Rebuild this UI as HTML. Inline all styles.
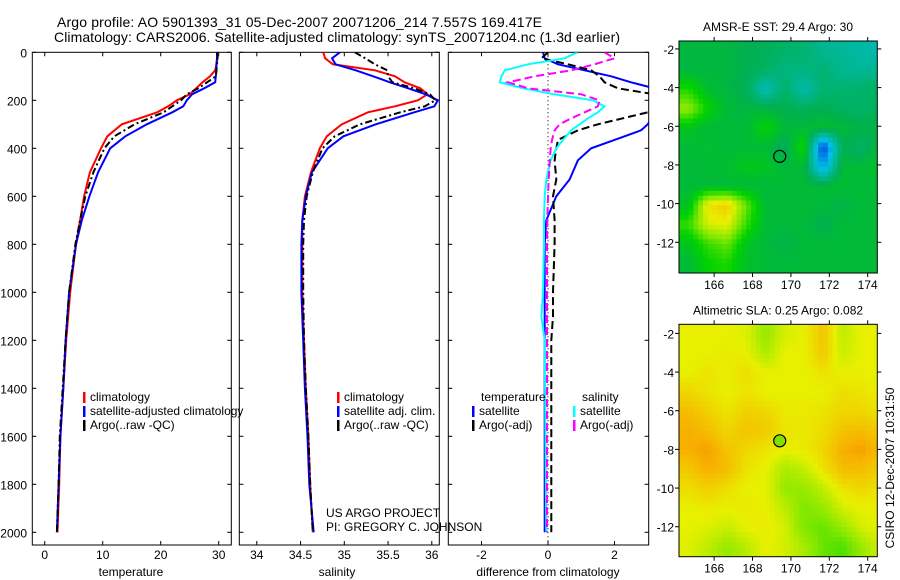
<!DOCTYPE html>
<html><head><meta charset="utf-8"><style>
html,body{margin:0;padding:0;background:#fff;}
svg{display:block;font-family:"Liberation Sans",Arial,sans-serif;}
</style></head><body>
<svg id="fig" width="900" height="580" viewBox="0 0 900 580"></svg>
<script>
// ---------- DATA ----------
const depthsTS = [0,25,50,75,100,125,150,175,200,225,250,300,350,400,500,600,700,800,1000,1200,1400,1600,1800,2000];
const tempClim = [29.9,29.8,29.6,29.4,28.5,27.2,26.1,25,22.8,21.3,19.4,13.3,10.8,9.7,7.8,6.8,6.1,5.4,4.4,3.7,3.2,2.7,2.5,2.2];
const tempSat  = [29.7,29.7,29.6,29.6,29.5,29.4,27.5,25.4,24.5,23.9,22,17.6,13.9,11.3,9.2,7.7,6.4,5.4,4.2,3.6,3.2,2.7,2.4,2.1];
const tempArgo = [29.8,29.8,29.7,29.6,29.5,28,26.5,24.5,23.5,22,20.5,15.5,12,10.3,8.4,7,6.1,5.3,4.2,3.6,3.1,2.6,2.4,2.1];
const salClim  = [34.76,34.78,34.87,35.35,35.58,35.69,35.87,35.95,35.84,35.58,35.27,34.97,34.8,34.72,34.62,34.55,34.52,34.52,34.52,34.54,34.56,34.59,34.61,34.64];
const salSat   = [34.95,34.86,34.9,35.13,35.33,35.52,35.73,35.93,36.07,36.03,35.8,35.36,34.99,34.81,34.63,34.56,34.52,34.51,34.51,34.53,34.55,34.58,34.6,34.65];
const salArgo  = [35.12,35.24,35.35,35.49,35.5,35.55,35.8,35.98,36.04,35.92,35.64,35.18,34.89,34.75,34.64,34.57,34.54,34.53,34.53,34.54,34.56,34.59,34.61,34.64];
const diffDepths = [0,25,50,75,100,125,150,175,200,225,250,275,300,325,365,400,450,530,600,700,800,1000,1100,1200,1500,2000];
const dTempSat  = [-0.15,-0.1,0.3,1.1,1.9,2.5,3.2,4,3.8,3.5,3.3,3.1,3.0,2.8,2.0,1.3,0.9,0.65,0.25,-0.05,-0.1,-0.1,-0.1,-0.1,-0.1,-0.1];
const dTempArgo = [0,-0.2,0.6,1.3,1.55,1.7,2.1,3.2,3.6,3.3,3.0,2.25,1.5,0.9,0.3,0.25,0.2,0.25,0.15,0.2,0.2,0.15,0.15,0.1,0.1,0.1];
const dSalSat   = [0.88,0.5,-0.6,-1.3,-1.4,-1.45,-0.75,0.2,1.35,1.7,1.5,1.2,0.95,0.7,0.45,0.25,0.08,-0.05,-0.1,-0.12,-0.12,-0.15,-0.2,-0.1,-0.08,-0.05];
const dSalArgo  = [1.7,2.0,1.4,0.7,-0.4,-1.2,-0.6,1.0,1.55,1.5,1.1,0.7,0.35,0.2,0.12,0.08,0.05,0.02,0,-0.02,-0.03,-0.03,-0.03,-0.03,-0.03,-0.03];
const depthTicks = [0,200,400,600,800,1000,1200,1400,1600,1800,2000];
const tempTicks = [0,10,20,30];
const salTicks = [34,34.5,35,35.5,36];
const diffTicks = [-2,0,2];
const lonTicks = [166,168,170,172,174];
const latTicks = [-2,-4,-6,-8,-10,-12];
// map fields: 12 rows (lat from -1.59 southward, 1 deg), 11 cols (lon from 164.17, 1 deg); colormap index 0..1
const sstField = [
[0.52,0.52,0.52,0.5,0.49,0.47,0.46,0.42,0.41,0.39,0.38],
[0.52,0.52,0.52,0.5,0.48,0.44,0.44,0.46,0.42,0.41,0.43],
[0.62,0.54,0.52,0.49,0.36,0.47,0.38,0.46,0.46,0.47,0.48],
[0.72,0.6,0.53,0.52,0.52,0.5,0.49,0.5,0.48,0.47,0.49],
[0.56,0.53,0.53,0.53,0.6,0.53,0.53,0.54,0.53,0.51,0.51],
[0.53,0.54,0.53,0.53,0.53,0.48,0.62,0.12,0.5,0.47,0.53],
[0.53,0.53,0.54,0.57,0.56,0.53,0.53,0.25,0.53,0.53,0.55],
[0.53,0.53,0.53,0.53,0.53,0.53,0.53,0.53,0.54,0.53,0.53],
[0.55,0.82,0.86,0.68,0.53,0.53,0.53,0.53,0.51,0.53,0.53],
[0.64,0.78,0.8,0.64,0.53,0.53,0.53,0.5,0.53,0.53,0.53],
[0.56,0.64,0.68,0.56,0.53,0.51,0.53,0.53,0.53,0.53,0.53],
[0.53,0.6,0.62,0.55,0.53,0.53,0.53,0.53,0.53,0.53,0.53]];
const slaField = [
[0.8,0.8,0.8,0.79,0.72,0.78,0.8,0.87,0.76,0.8,0.8],
[0.8,0.8,0.81,0.8,0.74,0.8,0.8,0.86,0.77,0.8,0.8],
[0.8,0.82,0.8,0.83,0.8,0.8,0.8,0.82,0.8,0.8,0.8],
[0.84,0.82,0.8,0.82,0.8,0.8,0.8,0.8,0.83,0.82,0.8],
[0.88,0.85,0.82,0.85,0.84,0.81,0.81,0.82,0.84,0.84,0.82],
[0.9,0.88,0.84,0.87,0.86,0.82,0.81,0.83,0.87,0.88,0.86],
[0.9,0.92,0.87,0.84,0.82,0.8,0.81,0.84,0.9,0.92,0.88],
[0.86,0.9,0.88,0.82,0.8,0.74,0.76,0.82,0.88,0.88,0.85],
[0.83,0.85,0.83,0.8,0.8,0.72,0.72,0.76,0.82,0.84,0.82],
[0.8,0.81,0.8,0.81,0.8,0.76,0.7,0.72,0.78,0.8,0.8],
[0.8,0.79,0.77,0.8,0.81,0.78,0.7,0.68,0.72,0.78,0.8],
[0.79,0.76,0.72,0.75,0.8,0.78,0.74,0.68,0.66,0.72,0.78]];
const argoLon = 169.417, argoLat = -7.557;

// ---------- helpers ----------
const NS="http://www.w3.org/2000/svg";
const svg=document.getElementById('fig');
function mk(tag,attrs,parent){const e=document.createElementNS(NS,tag);for(const k in attrs)e.setAttribute(k,attrs[k]);(parent||svg).appendChild(e);return e;}
function txt(x,y,s,anchor,size,parent){const t=mk('text',{x:x,y:y,'font-size':size||12,'text-anchor':anchor||'start',fill:'#000'},parent);t.textContent=s;return t;}

const yD = d => 52.3 + d*0.24;
const panels = [
 {name:'temperature',x0:32.3,x1:231.3,sx:v=>44.7+v*5.8,ticks:tempTicks,label:'temperature',lc:131},
 {name:'salinity',x0:239.3,x1:439.3,sx:v=>256.8+(v-34)*87.5,ticks:salTicks,label:'salinity',lc:337},
 {name:'difference',x0:448.3,x1:648.7,sx:v=>548+v*33.25,ticks:diffTicks,label:'difference from climatology',lc:548}
];
const PT=52.3, PB=545;

let t1=txt(57,27,'Argo profile: AO 5901393_31 05-Dec-2007 20071206_214 7.557S 169.417E','start',14);
t1.setAttribute('textLength','485');


let t2=txt(54,42,'Climatology: CARS2006. Satellite-adjusted climatology: synTS_20071204.nc (1.3d earlier)','start',14);
t2.setAttribute('textLength','566');



function series(p,depths,vals,color,dash,name,width){
  const pts=depths.map((d,i)=>p.sx(vals[i]).toFixed(1)+','+yD(d).toFixed(1)).join(' ');
  const l=mk('polyline',{points:pts,fill:'none',stroke:color,'stroke-width':width||2,'clip-path':'url(#clip-'+p.name+')'},p.g);
  if(dash)l.setAttribute('stroke-dasharray',dash);
  
  
}

panels.forEach((p,pi)=>{
  const g=mk('g',{});
  
  
  p.g=g;
  const cp=mk('clipPath',{id:'clip-'+p.name},g);
  mk('rect',{x:p.x0,y:PT,width:p.x1-p.x0,height:PB-PT},cp);
  const fr=mk('rect',{x:p.x0,y:PT,width:p.x1-p.x0,height:PB-PT,fill:'none',stroke:'#000','stroke-width':1},g);
  
  
  depthTicks.forEach(d=>{
    const y=yD(d);
    mk('line',{x1:p.x0,y1:y,x2:p.x0+4,y2:y,stroke:'#000'},g);
    mk('line',{x1:p.x1,y1:y,x2:p.x1-4,y2:y,stroke:'#000'},g);
    if(pi===0){const tl=txt(27,y+5,String(d),'end',12,g);
      
      }
  });
  p.ticks.forEach(v=>{
    const x=p.sx(v);
    mk('line',{x1:x,y1:PT,x2:x,y2:PT+4,stroke:'#000'},g);
    mk('line',{x1:x,y1:PB,x2:x,y2:PB-4,stroke:'#000'},g);
    const tl=txt(x,559,String(v),'middle',12,g);
    
    
  });
  const xl=txt(p.lc,576,p.label,'middle',12,g);
  
  
});

series(panels[0],depthsTS,tempClim,'#f00',null,'temp-climatology-line');
series(panels[0],depthsTS,tempSat,'#00f',null,'temp-satellite-line');
series(panels[0],depthsTS,tempArgo,'#000','7,3,2,3','temp-argo-line');
series(panels[1],depthsTS,salClim,'#f00',null,'sal-climatology-line');
series(panels[1],depthsTS,salSat,'#00f',null,'sal-satellite-line');
series(panels[1],depthsTS,salArgo,'#000','7,3,2,3','sal-argo-line');
const zl=mk('line',{x1:panels[2].sx(0),y1:PT,x2:panels[2].sx(0),y2:PB,stroke:'#000','stroke-width':1,'stroke-dasharray':'1,3'},panels[2].g);


series(panels[2],diffDepths,dTempSat,'#00f',null,'diff-temp-satellite-line');
series(panels[2],diffDepths,dTempArgo,'#000','8,4','diff-temp-argo-line');
series(panels[2],diffDepths,dSalSat,'#0ff',null,'diff-sal-satellite-line');
series(panels[2],diffDepths,dSalArgo,'#f0f','8,4','diff-sal-argo-line');

function legend(x,y,color,label,name,clipW){
  const g=mk('g',{});
  
  
  if(color) mk('rect',{x:x,y:y-9,width:2.5,height:11,fill:color},g);
  txt(x+7,y,label,'start',12,g);
}
legend(83,401,'#f00','climatology','legend-entry-climatology');
legend(83,415,'#00f','satellite-adjusted climatology','legend-entry-satellite');
legend(83,429,'#000','Argo(..raw -QC)','legend-entry-argo');
legend(337,401,'#f00','climatology','legend-entry-sal-climatology');
legend(337,415,'#00f','satellite adj. clim.','legend-entry-sal-satellite');
legend(337,429,'#000','Argo(..raw -QC)','legend-entry-sal-argo');
legend(474,401,null,'temperature','legend-header-temperature');
legend(472,415,'#00f','satellite','legend-entry-diff-temp-satellite');
legend(472,429,'#000','Argo(-adj)','legend-entry-diff-temp-argo');
legend(575,401,null,'salinity','legend-header-salinity');
legend(573,415,'#0ff','satellite','legend-entry-diff-sal-satellite');
legend(573,429,'#f0f','Argo(-adj)','legend-entry-diff-sal-argo');
let a1=txt(326,517,'US ARGO PROJECT','start',12);


let a2=txt(326,531,'PI: GREGORY C. JOHNSON','start',12);



// ---------- maps ----------
const cmapStops=[[0,[0,0,128]],[0.15,[0,80,224]],[0.3,[0,192,232]],[0.4,[0,184,160]],[0.5,[0,176,80]],[0.6,[0,210,0]],[0.7,[128,232,0]],[0.8,[232,240,0]],[0.9,[248,176,0]],[1,[224,96,0]]];
function cmap(v){
  for(let i=1;i<cmapStops.length;i++){if(v<=cmapStops[i][0]){const a=cmapStops[i-1],b=cmapStops[i];const f=(v-a[0])/(b[0]-a[0]);
    const c=a[1].map((q,k)=>Math.round(q+(b[1][k]-q)*f));return 'rgb('+c.join(',')+')';}}
  return 'rgb(224,96,0)';
}
function sample(field,fr,fc){
  const R=field.length,C=field[0].length;
  let r=Math.min(Math.max(fr-0.5,0),R-1), c=Math.min(Math.max(fc-0.5,0),C-1);
  const r0=Math.floor(r),c0=Math.floor(c),r1=Math.min(r0+1,R-1),c1=Math.min(c0+1,C-1);
  const a=r-r0,b=c-c0;
  return field[r0][c0]*(1-a)*(1-b)+field[r0][c1]*(1-a)*b+field[r1][c0]*a*(1-b)+field[r1][c1]*a*b;
}
const LON0=164.17, LON1=174.5, SUB=4;
function drawMap(name,top,bottom,latTop,latBot,field,title,markerFill){
  const L=679,R=877.3;
  const sx=lon=>L+(lon-LON0)/(LON1-LON0)*(R-L);
  const sy=lat=>top+(latTop-lat)/(latTop-latBot)*(bottom-top);
  const g=mk('g',{});
  
  
  const cp=mk('clipPath',{id:'clip-'+name},g);
  mk('rect',{x:L,y:top,width:R-L,height:bottom-top},cp);
  const cg=mk('g',{'clip-path':'url(#clip-'+name+')'},g);
  const nr=field.length*SUB, nc=field[0].length*SUB;
  for(let r=0;r<nr;r++)for(let c=0;c<nc;c++){
    const v=sample(field,(r+0.5)/SUB,(c+0.5)/SUB);
    const x0=sx(LON0+c/SUB),x1=sx(LON0+(c+1)/SUB),y0=sy(latTop-r/SUB),y1=sy(latTop-(r+1)/SUB);
    const cell=mk('rect',{x:x0.toFixed(1),y:y0.toFixed(1),width:(x1-x0+0.6).toFixed(1),height:(y1-y0+0.6).toFixed(1),fill:cmap(v)},cg);
    
    
  }
  const fr=mk('rect',{x:L,y:top,width:R-L,height:bottom-top,fill:'none',stroke:'#000'},g);
  
  
  lonTicks.forEach(lon=>{const x=sx(lon);
    mk('line',{x1:x,y1:top,x2:x,y2:top-4,stroke:'#000'},g);
    mk('line',{x1:x,y1:bottom,x2:x,y2:bottom+4,stroke:'#000'},g);
    const tl=txt(x,bottom+16,String(lon),'middle',12,g);
    
    });
  latTicks.forEach(lat=>{const y=sy(lat);
    mk('line',{x1:L,y1:y,x2:L-4,y2:y,stroke:'#000'},g);
    mk('line',{x1:R,y1:y,x2:R+4,y2:y,stroke:'#000'},g);
    const tl=txt(674,y+5,String(lat),'end',12,g);
    
    });
  const tt=txt(778,top-10,title,'middle',12,g);
  
  
  const m=mk('circle',{cx:sx(argoLon),cy:sy(argoLat),r:6,fill:markerFill,stroke:'#000','stroke-width':1.2},g);
  
  
}
drawMap('sst',41,273,-1.59,-13.59,sstField,'AMSR-E SST: 29.4 Argo: 30','none');
drawMap('sla',324.3,556.7,-1.53,-13.55,slaField,'Altimetric SLA: 0.25 Argo: 0.082','#80e000');

const cs=txt(0,0,'CSIRO 12-Dec-2007 10:31:50','middle',12);
cs.setAttribute('transform','translate(894,468) rotate(-90)');


</script>
</body></html>
